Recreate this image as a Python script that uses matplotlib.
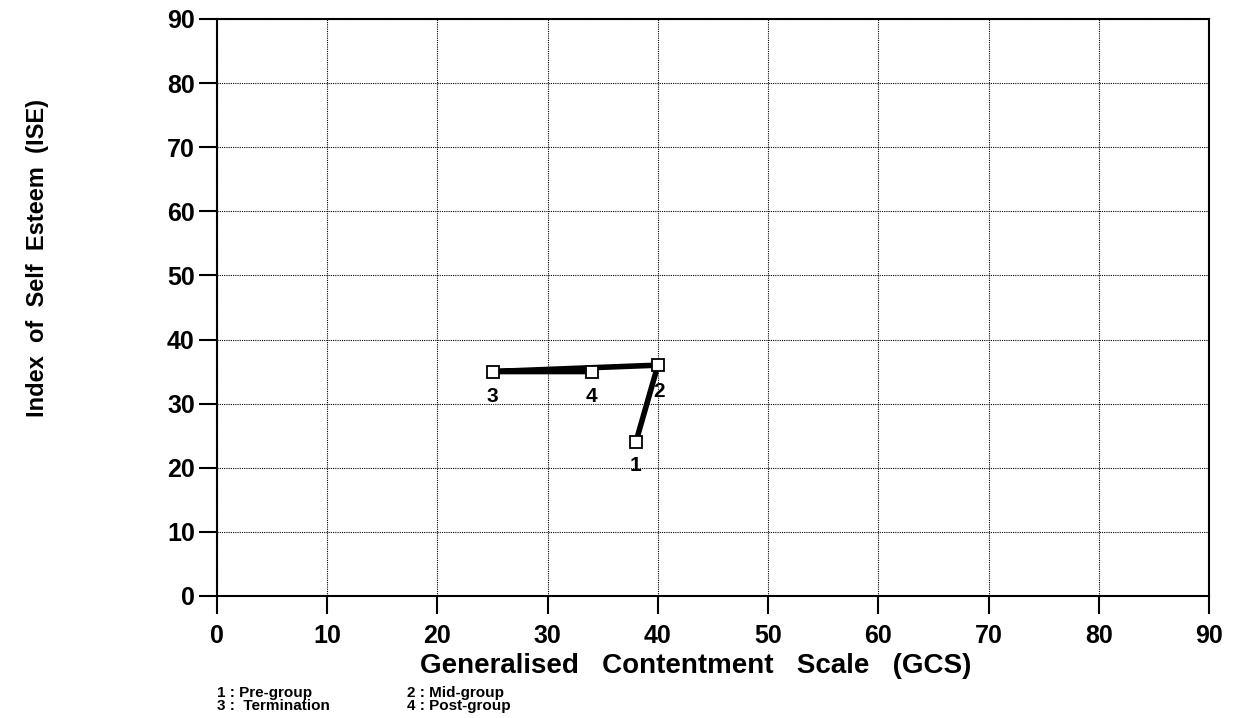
import matplotlib.pyplot as plt

# data
gcs = [38, 40, 25, 34]
ise = [24, 36, 35, 35]
point_labels = ["1", "2", "3", "4"]
label_offsets = [(0, -17), (1, -19), (0, -18), (0, -18)]
legend_left = ["1 : Pre-group", "3 :  Termination"]
legend_right = ["2 : Mid-group", "4 : Post-group"]
ticks = list(range(0, 91, 10))

plt.rcParams['font.family'] = ['Liberation Sans', 'DejaVu Sans']
plt.rcParams['font.weight'] = 'bold'

fig = plt.figure(figsize=(12.38, 7.18), dpi=100)
ax = fig.add_axes([0.1753, 0.170, 0.8013, 0.8036])

ax.set_xlim(0, 90)
ax.set_ylim(0, 90)
ax.set_xticks(ticks)
ax.set_yticks(ticks)
ax.tick_params(direction='out', length=13, width=1.5, labelsize=18)
ax.tick_params(axis='x', pad=7)
ax.tick_params(axis='y', pad=3)
ax.grid(True, linestyle=(0, (1, 1)), color='black', linewidth=0.8)
for s in ax.spines.values():
    s.set_linewidth(1.5)

ax.plot(gcs, ise, color='black', linewidth=4, zorder=3)
ax.plot(gcs, ise, linestyle='none', marker='s', markersize=8,
        markerfacecolor='white', markeredgecolor='black', markeredgewidth=1.3, zorder=4)
for x, y, t, off in zip(gcs, ise, point_labels, label_offsets):
    ax.annotate(t, (x, y), xytext=off, textcoords='offset points',
                ha='center', va='center', fontsize=15)

fig.text(0.562, 0.073, "Generalised   Contentment   Scale   (GCS)", fontsize=20,
         ha='center', va='center')
fig.text(0.030, 0.64, "Index  of  Self  Esteem  (ISE)", rotation=90,
         fontsize=17, ha='center', va='center')

fig.text(0.175, 0.026, "\n".join(legend_left), fontsize=11,
         va='center', ha='left', linespacing=0.88)
fig.text(0.329, 0.026, "\n".join(legend_right), fontsize=11,
         va='center', ha='left', linespacing=0.88)

fig.savefig("out.png", dpi=100)
